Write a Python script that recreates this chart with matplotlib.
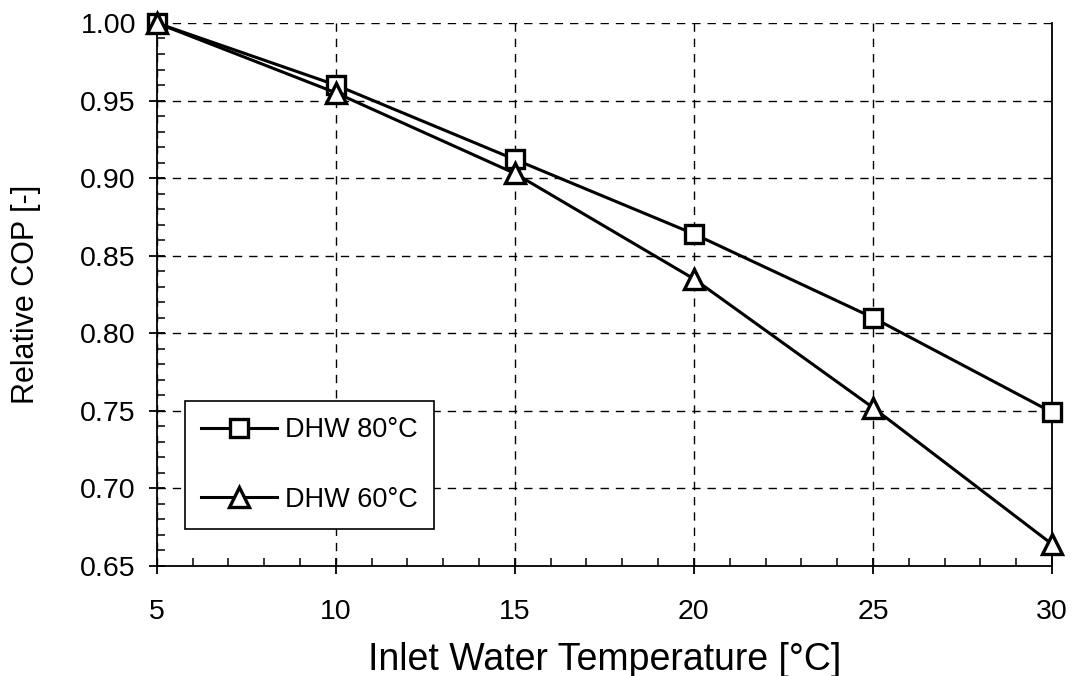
import matplotlib
matplotlib.use("Agg")
import matplotlib.pyplot as plt
from matplotlib.ticker import MultipleLocator

# inlet water temperature and relative COP for two DHW set points
inlet_temp = [5, 10, 15, 20, 25, 30]
cop_dhw80 = [1.000, 0.960, 0.912, 0.864, 0.810, 0.749]
cop_dhw60 = [1.000, 0.955, 0.903, 0.835, 0.752, 0.664]
labels = ["DHW 80°C", "DHW 60°C"]

plt.rcParams["font.family"] = ["Liberation Sans", "DejaVu Sans"]

fig = plt.figure(figsize=(10.74, 6.76), dpi=100)
ax = fig.add_axes([0.146, 0.163, 0.8335, 0.803])

ax.plot(inlet_temp, cop_dhw80, color="black", lw=2.2, marker="s", ms=13,
        mfc="white", mec="black", mew=2.4, label=labels[0], clip_on=False, zorder=4)
ax.plot(inlet_temp, cop_dhw60, color="black", lw=2.2, marker="^", ms=15,
        mfc="white", mec="black", mew=2.4, label=labels[1], clip_on=False, zorder=5)

ax.set_xlim(5, 30)
ax.set_ylim(0.65, 1.00)
ax.xaxis.set_major_locator(MultipleLocator(5))
ax.xaxis.set_minor_locator(MultipleLocator(1))
ax.yaxis.set_major_locator(MultipleLocator(0.05))
ax.yaxis.set_minor_locator(MultipleLocator(0.01))
ax.yaxis.set_major_formatter(plt.FormatStrFormatter("%.2f"))

ax.grid(True, which="major", color="black", ls=(0, (6, 5)), lw=1.0)
ax.spines["top"].set_visible(False)
for s in ["left", "bottom", "right"]:
    ax.spines[s].set_linewidth(1.3)

ax.tick_params(which="major", direction="inout", length=12, width=1.3,
               labelsize=20.5, color="black")
ax.tick_params(axis="x", which="major", pad=18)
ax.tick_params(axis="y", which="major", pad=9)
ax.tick_params(which="minor", direction="in", length=6, width=1.1)
ax.tick_params(axis="y", which="both", right=False)

ax.set_xlabel("Inlet Water Temperature [°C]", fontsize=27, labelpad=12)
ax.set_ylabel("Relative COP [-]", fontsize=22, labelpad=28)

leg = ax.legend(loc="lower left", bbox_to_anchor=(0.031, 0.068), fontsize=19.5,
                frameon=True, fancybox=False, edgecolor="black", framealpha=1,
                handlelength=2.8, handletextpad=0.3, labelspacing=1.6,
                borderpad=0.6, borderaxespad=0)
leg.get_frame().set_linewidth(1.2)

fig.savefig("out.png", dpi=100)
